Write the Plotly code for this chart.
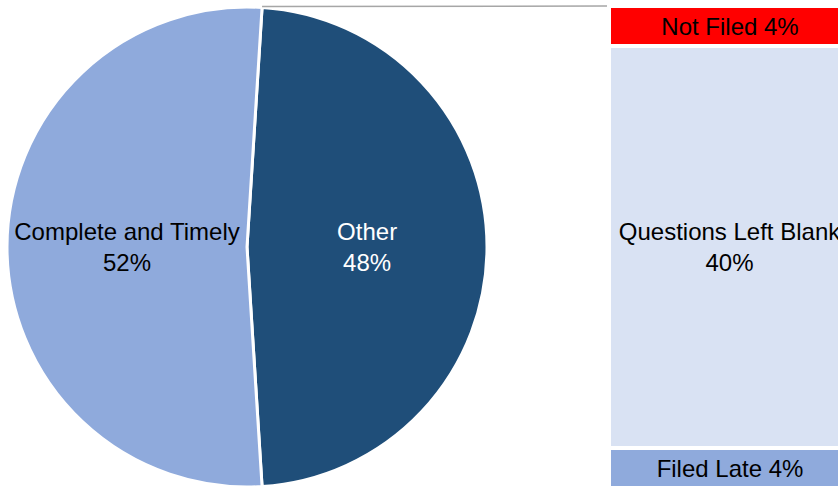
import math
import plotly.graph_objects as go

# ---- data ----
pie_labels = ["Other", "Complete and Timely"]
pie_values = [48, 52]
pie_colors = ["#1F4E79", "#8FAADC"]
pie_text_colors = ["white", "black"]

bar_labels = ["Filed Late", "Questions Left Blank", "Not Filed"]   # bottom -> top
bar_values = [4, 40, 4]
bar_colors = ["#8FAADC", "#D9E2F3", "#FF0000"]

W, H = 838, 487
FONT = "Liberation Sans, Arial, sans-serif"
FS = 24

# pie geometry (pixels)
pie_left, pie_top, pie_size = 7, 7, 480
cx, cy, R = pie_left + pie_size / 2, pie_top + pie_size / 2, pie_size / 2

# 'Other' slice centred at 3 o'clock
other_share = pie_values[0] / sum(pie_values)
rotation = 90 - 360 * other_share / 2

fig = go.Figure()

fig.add_trace(go.Pie(
    labels=pie_labels,
    values=pie_values,
    sort=False,
    direction="clockwise",
    rotation=rotation,
    marker=dict(colors=pie_colors, line=dict(color="white", width=3)),
    textinfo="label+percent",
    textposition="inside",
    insidetextorientation="horizontal",
    textfont=dict(family=FONT, size=FS, color=pie_text_colors),
    domain=dict(x=[pie_left / W, (pie_left + pie_size) / W],
                y=[1 - (pie_top + pie_size) / H, 1 - pie_top / H]),
    showlegend=False,
    hoverinfo="label+percent",
))

for lab, val, col in zip(bar_labels, bar_values, bar_colors):
    fig.add_trace(go.Bar(
        x=[0], y=[val], width=1,
        name=lab,
        marker=dict(color=col, line=dict(color="white", width=4)),
        text=[f"{lab} {val}%" if val < 10 else f"{lab}<br>{val}%"],
        textposition="inside",
        insidetextanchor="middle",
        textangle=0,
        textfont=dict(family=FONT, size=FS, color="black"),
        cliponaxis=True,
        showlegend=False,
        hoverinfo="name+y",
    ))

bar_left_px, bar_width_px = 609, 242
bar_total = sum(bar_values)
bar_top_px = 6
px_per_unit = 10.05
y_dom_top = 1 - bar_top_px / H
y_range_low = bar_total - (H - bar_top_px) / px_per_unit

fig.update_layout(
    width=W, height=H,
    margin=dict(l=0, r=0, t=0, b=0),
    paper_bgcolor="white", plot_bgcolor="white",
    barmode="stack",
    xaxis=dict(domain=[bar_left_px / W, 1],
               range=[-0.5, -0.5 + (W - bar_left_px) / bar_width_px],
               visible=False, fixedrange=True),
    yaxis=dict(domain=[0, y_dom_top], range=[y_range_low, bar_total],
               visible=False, fixedrange=True),
    font=dict(family=FONT),
)

# connector line from pie split point to top of bar
sx = cx + R * math.sin(math.radians(rotation))
sy = cy - R * math.cos(math.radians(rotation))
fig.add_shape(type="line", xref="paper", yref="paper",
              x0=sx / W, y0=1 - (sy - 1) / H,
              x1=(bar_left_px - 2) / W, y1=1 - bar_top_px / H,
              line=dict(color="#A6A6A6", width=1.5))

fig.write_html("out.html",
               config={"displayModeBar": False},
               post_script="document.body.style.margin='0';document.body.style.overflow='hidden';")
